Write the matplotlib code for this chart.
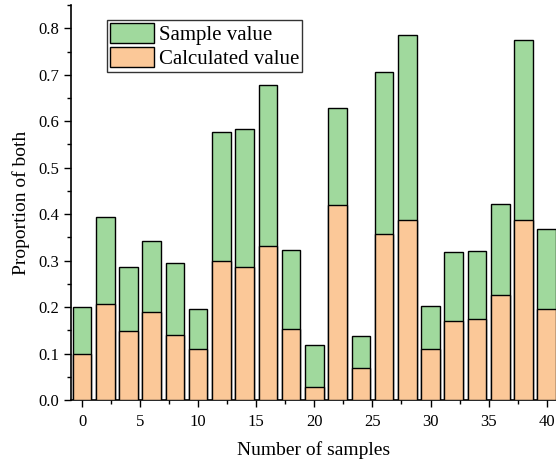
import matplotlib.pyplot as plt
import numpy as np
from matplotlib.ticker import MultipleLocator

plt.rcParams["font.family"] = ["Liberation Serif", "DejaVu Serif"]

# Sample index (every other sample shown)
samples = np.arange(0, 41, 2)
sample_value = [0.200, 0.393, 0.286, 0.342, 0.294, 0.197, 0.576, 0.583, 0.678, 0.322, 0.119,
                0.629, 0.138, 0.707, 0.786, 0.202, 0.319, 0.321, 0.421, 0.774, 0.368]
calculated_value = [0.099, 0.207, 0.148, 0.190, 0.140, 0.110, 0.300, 0.286, 0.331, 0.154, 0.029,
                    0.419, 0.068, 0.357, 0.387, 0.110, 0.170, 0.174, 0.227, 0.387, 0.196]

GREEN = "#A0D99D"
ORANGE = "#FBC898"

fig = plt.figure(figsize=(5.56, 4.62), dpi=100)
ax = fig.add_axes([0.1277, 0.134, 0.8723, 0.855])

ax.bar(samples, sample_value, width=1.6, color=GREEN, edgecolor="black", linewidth=1.0,
       label="Sample value", zorder=2)
ax.bar(samples, calculated_value, width=1.6, color=ORANGE, edgecolor="black", linewidth=1.0,
       label="Calculated value", zorder=3)

ax.set_xlim(-0.95, 40.8)
ax.set_ylim(0, 0.85)
ax.xaxis.set_major_locator(MultipleLocator(5))
ax.xaxis.set_minor_locator(MultipleLocator(2.5))
ax.yaxis.set_major_locator(MultipleLocator(0.1))
ax.yaxis.set_minor_locator(MultipleLocator(0.05))
ax.yaxis.set_major_formatter(plt.FormatStrFormatter("%.1f"))
ax.tick_params(which="major", length=5, width=1, labelsize=12, direction="out")
ax.tick_params(axis="x", which="major", pad=5)
ax.tick_params(which="minor", length=3, width=1, direction="out")

for side in ["top", "right"]:
    ax.spines[side].set_visible(False)
for side in ["left", "bottom"]:
    ax.spines[side].set_linewidth(1.2)

ax.set_xlabel("Number of samples", fontsize=14, labelpad=8)
ax.set_ylabel("Proportion of both", fontsize=14, labelpad=6)

leg = ax.legend(loc="upper left", bbox_to_anchor=(0.074, 0.962), fontsize=15,
                handlelength=2.1, handleheight=1.05, labelspacing=0.12,
                handletextpad=0.25, borderpad=0.15, borderaxespad=0.0,
                fancybox=False, framealpha=1)
leg.get_frame().set_edgecolor("#333333")
leg.get_frame().set_linewidth(1.0)

fig.savefig("out.png", dpi=100)
